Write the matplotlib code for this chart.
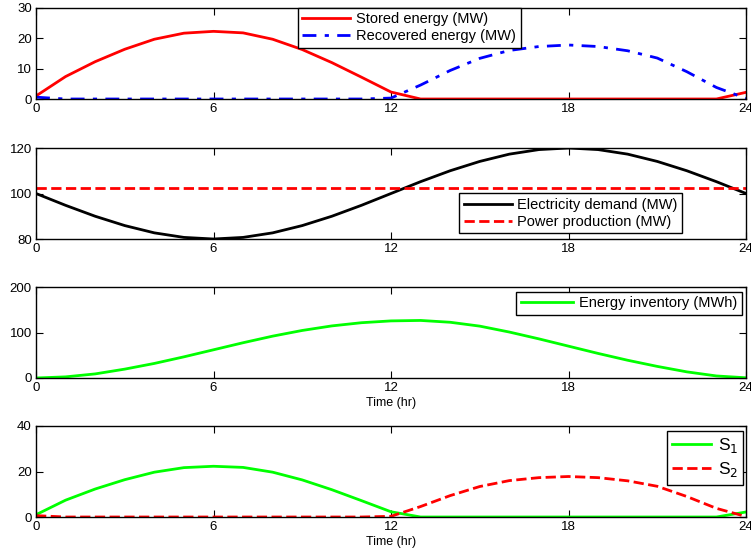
import matplotlib
matplotlib.use("Agg")
import matplotlib.pyplot as plt
import numpy as np

plt.rcParams['font.family'] = ['Liberation Sans', 'DejaVu Sans']

hours = list(range(25))
x_ticks = [0, 6, 12, 18, 24]

stored = [1.0, 7.4, 12.3, 16.4, 19.7, 21.7, 22.3, 21.8, 19.7, 16.3, 12.0, 7.2, 2.3,
          0, 0, 0, 0, 0, 0, 0, 0, 0, 0, 0, 2.2]
recovered = [0.6, 0, 0, 0, 0, 0, 0, 0, 0, 0, 0, 0, 0.3,
             4.6, 9.4, 13.4, 16.0, 17.3, 17.8, 17.3, 15.9, 13.5, 9.0, 3.8, 0.2]
demand = [100, 94.8, 90.0, 85.9, 82.7, 80.7, 80.0, 80.7, 82.7, 85.9, 90.0, 94.8, 100,
          105.2, 110.0, 114.1, 117.3, 119.3, 120.0, 119.3, 117.3, 114.1, 110.0, 105.2, 100]
production = [102.4] * 25
inventory = [0, 2.5, 9, 19.5, 32, 46.5, 62, 77.5, 92, 104.5, 114.5, 121.5, 125.5,
             126.5, 122.5, 114, 101, 86, 70, 54, 39, 25.5, 13.5, 4.5, 0.5]
s1 = stored
s2 = recovered

fig = plt.figure(figsize=(7.51, 5.52), dpi=100)
left, width, height = 36 / 751, 710 / 751, 91 / 552
bottoms = [1 - 99 / 552, 1 - 239 / 552, 1 - 378 / 552, 1 - 517 / 552]
axes = [fig.add_axes([left, b, width, height]) for b in bottoms]

lw = 2.0


def style_axis(ax, ylim, yticks, size=9.5):
    ax.set_xlim(0, 24)
    ax.set_ylim(*ylim)
    ax.set_xticks(x_ticks)
    ax.set_yticks(yticks)
    ax.tick_params(direction='in', top=True, right=True, length=5, width=0.8,
                   labelsize=size, pad=3)
    for sp in ax.spines.values():
        sp.set_linewidth(1.0)


def add_legend(ax, fontsize=10.5, handlelength=3.3, **kw):
    leg = ax.legend(fontsize=fontsize, fancybox=False, edgecolor='black',
                    framealpha=1, borderpad=0.3, handlelength=handlelength,
                    handletextpad=0.4, borderaxespad=0, **kw)
    leg.get_frame().set_linewidth(1.0)
    leg.set_zorder(10)
    return leg


ax = axes[0]
ax.plot(hours, stored, color='red', lw=lw, label='Stored energy (MW)')
ax.plot(hours, recovered, color='blue', lw=lw, ls=(0, (5, 3, 1.5, 3)),
        label='Recovered energy (MW)')
style_axis(ax, (0, 30), [0, 10, 20, 30])
add_legend(ax, loc='upper left', bbox_to_anchor=(0.369, 1.0), labelspacing=0.2)

ax = axes[1]
ax.plot(hours, demand, color='black', lw=lw, label='Electricity demand (MW)')
ax.plot(hours, production, color='red', lw=lw, ls='--', label='Power production (MW)')
style_axis(ax, (80, 120), [80, 100, 120])
add_legend(ax, loc='lower left', bbox_to_anchor=(0.596, 0.066), labelspacing=0.2)

ax = axes[2]
ax.plot(hours, inventory, color='#00ff00', lw=lw, label='Energy inventory (MWh)')
style_axis(ax, (0, 200), [0, 100, 200])
ax.set_xlabel('Time (hr)', fontsize=9, labelpad=2)
add_legend(ax, fontsize=10.5, loc='upper right', bbox_to_anchor=(0.994, 0.945),
           handlelength=3.6)

ax = axes[3]
ax.plot(hours, s1, color='#00ff00', lw=lw, label='S$_1$')
ax.plot(hours, s2, color='red', lw=lw, ls='--', label='S$_2$')
style_axis(ax, (0, 40), [0, 20, 40])
ax.set_xlabel('Time (hr)', fontsize=9, labelpad=2)
add_legend(ax, fontsize=12.5, loc='upper right', bbox_to_anchor=(0.996, 0.945),
           labelspacing=0.3, handlelength=2.2)

fig.savefig('out.png', dpi=100)
